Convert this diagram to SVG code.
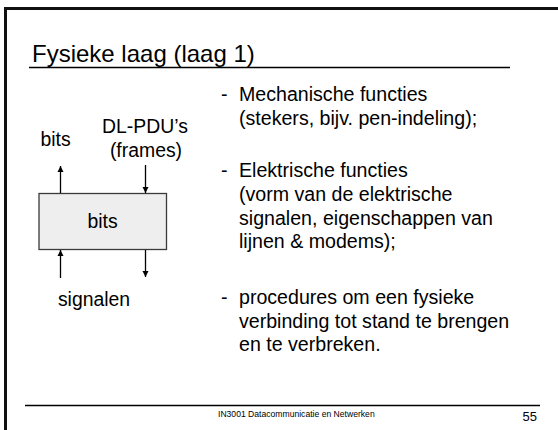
<svg xmlns="http://www.w3.org/2000/svg" width="558" height="430" viewBox="0 0 558 430">
  <style>
    text { font-family: "Liberation Sans", Arial, sans-serif; fill: #000; }
    .title { font-size: 24px; }
    .body { font-size: 19.6px; }
    .lbl { font-size: 19.4px; }
    .foot { font-size: 8.6px; }
    .num { font-size: 13px; }
    .rule { stroke: #000; stroke-width: 1.5; fill: none; }
    .conn { stroke: #000; stroke-width: 1.3; fill: none; marker-end: url(#head); }
    .block { fill: #eeeeee; stroke: #3a3a3a; stroke-width: 1.3; }
  </style>
  <defs>
    <marker id="head" viewBox="0 0 10 10" refX="10" refY="5" markerWidth="6" markerHeight="7" markerUnits="userSpaceOnUse" orient="auto">
      <path d="M0,0 L10,5 L0,10 Z" fill="#000"/>
    </marker>
  </defs>

  <rect width="558" height="430" fill="#fff"/>

  <!-- slide frame (right and bottom edges run off the page) -->
  <path d="M5.5,432 V8.5 H560" fill="none" stroke="#111" stroke-width="3"/>

  <!-- title -->
  <text class="title" x="32" y="62">Fysieke laag (laag 1)</text>
  <line class="rule" x1="29" y1="67.5" x2="510" y2="67.5"/>

  <!-- layer block -->
  <g id="layer">
    <rect class="block" x="39" y="193.5" width="127.5" height="56"/>
    <text class="lbl" x="102.5" y="228" text-anchor="middle">bits</text>
  </g>

  <g id="label-bits-out">
    <text class="lbl" x="55.5" y="146" text-anchor="middle">bits</text>
  </g>
  <g id="label-dlpdu">
    <text class="lbl" x="145" y="133" text-anchor="middle">DL-PDU’s</text>
    <text class="lbl" x="146" y="157" text-anchor="middle">(frames)</text>
  </g>
  <g id="label-signalen">
    <text class="lbl" x="94" y="306" text-anchor="middle">signalen</text>
  </g>

  <!-- connectors -->
  <g id="connectors">
    <line class="conn" x1="60.5" y1="193" x2="60.5" y2="166"/>
    <line class="conn" x1="145.5" y1="165" x2="145.5" y2="193"/>
    <line class="conn" x1="60.5" y1="278" x2="60.5" y2="250"/>
    <line class="conn" x1="145.5" y1="250" x2="145.5" y2="277"/>
  </g>

  <!-- bullet list -->
  <g id="bullets">
    <text class="body" x="221" y="101">-</text>
    <text class="body" x="239" y="101">Mechanische functies</text>
    <text class="body" x="239" y="125">(stekers, bijv. pen-indeling);</text>

    <text class="body" x="221" y="177">-</text>
    <text class="body" x="239" y="177">Elektrische functies</text>
    <text class="body" x="239" y="201">(vorm van de elektrische</text>
    <text class="body" x="239" y="224.5">signalen, eigenschappen van</text>
    <text class="body" x="239" y="248">lijnen &amp; modems);</text>

    <text class="body" x="221" y="304">-</text>
    <text class="body" x="239" y="304">procedures om een fysieke</text>
    <text class="body" x="239" y="327.5">verbinding tot stand te brengen</text>
    <text class="body" x="239" y="351">en te verbreken.</text>
  </g>

  <!-- footer -->
  <line class="rule" x1="25" y1="405.5" x2="540" y2="405.5"/>
  <text class="foot" x="218" y="417">IN3001 Datacommunicatie en Netwerken</text>
  <text class="num" x="537" y="421" text-anchor="end">55</text>
</svg>
